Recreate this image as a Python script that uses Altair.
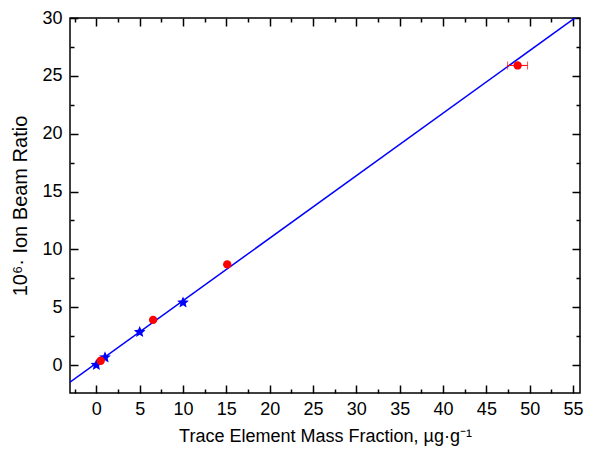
import altair as alt
import pandas as pd

# ---- data ----
star_x = [0.0, 1.0, 5.0, 10.0]
star_y = [0.0, 0.65, 2.85, 5.4]
red_x = [0.5, 6.55, 15.1, 48.6]
red_y = [0.37, 3.9, 8.7, 25.9]
red_xerr = [0.0, 0.0, 0.0, 1.15]
line_x = [-3.04, 55.8]
line_y = [-1.49, 30.32]

x_major = [0, 5, 10, 15, 20, 25, 30, 35, 40, 45, 50, 55]
x_minor = [-2.5, 2.5, 7.5, 12.5, 17.5, 22.5, 27.5, 32.5, 37.5, 42.5, 47.5, 52.5]
y_major = [0, 5, 10, 15, 20, 25, 30]
y_minor = [2.5, 7.5, 12.5, 17.5, 22.5, 27.5]

x_domain = [-3.04, 55.8]
y_domain = [-2.42, 30]

FONT = "Liberation Sans"
STAR = ("M0,-1 L0.265,-0.364 L0.951,-0.309 L0.428,0.139 L0.588,0.809 "
        "L0,0.45 L-0.588,0.809 L-0.428,0.139 L-0.951,-0.309 L-0.265,-0.364 Z")

stars = pd.DataFrame({"x": star_x, "y": star_y})
reds = pd.DataFrame({"x": red_x, "y": red_y, "e": red_xerr})
reds["lo"] = reds["x"] - reds["e"]
reds["hi"] = reds["x"] + reds["e"]
errs = reds[reds["e"] > 0]
line = pd.DataFrame({"x": line_x, "y": line_y})

xs = alt.Scale(domain=x_domain, nice=False, zero=False)
ys = alt.Scale(domain=y_domain, nice=False, zero=False)


def axis(orient, values, size, labels=False, title_size=18, **kw):
    return alt.Axis(orient=orient, values=values, tickSize=size, offset=-size,
                    domain=False, grid=False, labels=labels, ticks=True,
                    tickColor="black", tickWidth=1.5,
                    labelFont=FONT, labelFontSize=18, labelColor="black",
                    titleFont=FONT, titleFontSize=title_size, titleColor="black",
                    titleFontWeight="normal", **kw)


ax_bottom = axis("bottom", x_major, 8, labels=True, labelPadding=7, titlePadding=9)
ax_bottom_minor = axis("bottom", x_minor, 4)
ax_top = axis("top", x_major, 8)
ax_top_minor = axis("top", x_minor, 4)
ax_left = axis("left", y_major, 8, labels=True, title_size=20, labelPadding=8, titlePadding=11)
ax_left_minor = axis("left", y_minor, 4)
ax_right = axis("right", y_major, 8)
ax_right_minor = axis("right", y_minor, 4)

line_layer = alt.Chart(line).mark_line(color="#0000ff", strokeWidth=1.5, clip=True).encode(
    x=alt.X("x:Q", scale=xs, axis=ax_bottom, title="Trace Element Mass Fraction, µg·g⁻¹"),
    y=alt.Y("y:Q", scale=ys, axis=ax_left, title="10⁶· Ion Beam Ratio"),
)

star_layer = alt.Chart(stars).mark_point(
    shape=STAR, filled=True, color="#0000ff", size=150, opacity=1
).encode(
    x=alt.X("x:Q", scale=xs, axis=ax_bottom_minor, title=None),
    y=alt.Y("y:Q", scale=ys, axis=ax_left_minor, title=None),
)

red_layer = alt.Chart(reds).mark_circle(color="#ff0000", size=70, opacity=1).encode(
    x=alt.X("x:Q", scale=xs, axis=ax_top, title=None),
    y=alt.Y("y:Q", scale=ys, axis=ax_right, title=None),
)

err_layer = alt.Chart(errs).mark_rule(color="#ff0000", strokeWidth=1).encode(
    x=alt.X("lo:Q", scale=xs, axis=ax_top_minor, title=None),
    x2="hi:Q",
    y=alt.Y("y:Q", scale=ys, axis=ax_right_minor, title=None),
)

cap_lo = alt.Chart(errs).mark_tick(color="#ff0000", orient="vertical", size=8, thickness=1).encode(
    x=alt.X("lo:Q", scale=xs, axis=None),
    y=alt.Y("y:Q", scale=ys, axis=None),
)
cap_hi = alt.Chart(errs).mark_tick(color="#ff0000", orient="vertical", size=8, thickness=1).encode(
    x=alt.X("hi:Q", scale=xs, axis=None),
    y=alt.Y("y:Q", scale=ys, axis=None),
)

chart = alt.layer(
    line_layer, err_layer, cap_lo, cap_hi, star_layer, red_layer
).resolve_axis(x="independent", y="independent").properties(
    width=510, height=375,
    autosize=alt.AutoSizeParams(type="none"),
    padding={"left": 62, "top": 10, "right": 6, "bottom": 57},
    background="white",
).configure_view(stroke="black", strokeWidth=1.5)

chart.save("out.html", embed_options={"renderer": "svg", "actions": False})
